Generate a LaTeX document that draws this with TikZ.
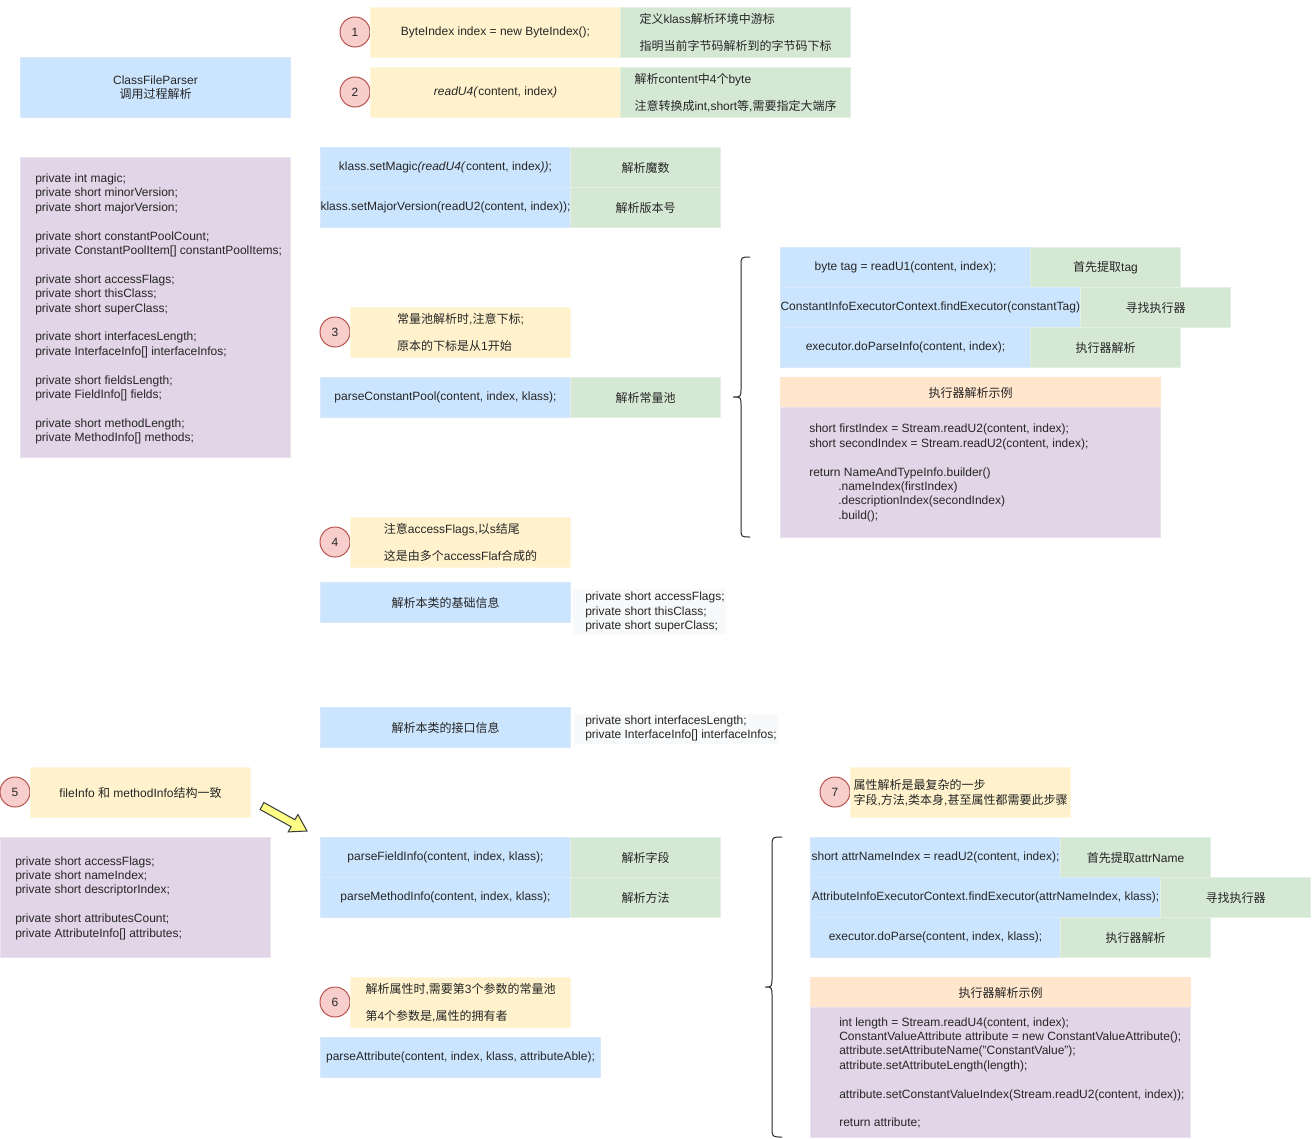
\documentclass[tikz,border=0pt]{standalone}
\usepackage{fontspec}
\setmainfont{Liberation Sans}
\newfontfamily\cjkfont{Noto Sans CJK SC}
\newcommand\zhs[1]{{\cjkfont #1}}

\definecolor{blueF}{HTML}{CCE5FF}
\definecolor{blueD}{HTML}{DAE8FC}
\definecolor{greenF}{HTML}{D5E8D4}
\definecolor{greenD}{HTML}{E2EFE1}
\definecolor{yellowF}{HTML}{FFF2CC}
\definecolor{yellowD}{HTML}{FFF6DD}
\definecolor{purpleF}{HTML}{E1D5E7}
\definecolor{purpleD}{HTML}{EAE1EE}
\definecolor{orangeF}{HTML}{FFE6CC}
\definecolor{redF}{HTML}{F8CECC}
\definecolor{redD}{HTML}{B85450}
\definecolor{grayF}{HTML}{F8F9FA}
\definecolor{arrowF}{HTML}{FFFF88}
\definecolor{arrowD}{HTML}{36393D}

\tikzset{
  txt/.style={font=\fontsize{9pt}{10.8pt}\selectfont, text=black!85},
  bx/.style 2 args={rectangle, anchor=north west, inner sep=0pt, line width=0.75pt,
    minimum width=#1*0.75pt, minimum height=#2*0.75pt, align=center, txt},
  bluebox/.style={fill=blueF, draw=blueD},
  greenbox/.style={fill=greenF, draw=greenD},
  notebox/.style={fill=yellowF, draw=yellowD, align=left},
  fieldbox/.style={fill=purpleF, draw=purpleD},
  headbox/.style={fill=orangeF, draw=orangeF},
  graybox/.style={fill=grayF, draw=none},
  code/.style={anchor=west, inner sep=0pt, align=left, txt},
  num/.style={circle, draw=redD, fill=redF, line width=0.75pt,
    minimum size=30*0.75pt, inner sep=0pt, txt},
  brace/.style={draw=black!85, line width=0.75pt},
}

\begin{document}
\begin{tikzpicture}[x=0.75pt, y=-0.75pt]
\useasboundingbox (0,0) rectangle (1312,1138);

% ---- title and the fields of the class file ----
\node[bx={270}{60}, bluebox] (title) at (20,57) {ClassFileParser\\\zhs{调用过程解析}};
\node[bx={270}{300}, fieldbox] (fields) at (20,157) {};
\node[code] (fieldstxt) at (35,309) {private int magic;\\
private short minorVersion;\\
private short majorVersion;\\[10.8pt]
private short constantPoolCount;\\
private ConstantPoolItem[] constantPoolItems;\\[10.8pt]
private short accessFlags;\\
private short thisClass;\\
private short superClass;\\[10.8pt]
private short interfacesLength;\\
private InterfaceInfo[] interfaceInfos;\\[10.8pt]
private short fieldsLength;\\
private FieldInfo[] fields;\\[10.8pt]
private short methodLength;\\
private MethodInfo[] methods;};

% ---- step 1 and 2 ----
\node[num] (n1) at (355,32) {1};
\node[bx={250}{50}, notebox, align=center] (s1) at (370,7) {ByteIndex index = new ByteIndex();};
\node[bx={230}{50}, greenbox, align=left] (s1note) at (620,7)
  {\zhs{定义}klass\zhs{解析环境中游标}\\[9.45pt]\zhs{指明当前字节码解析到的字节码下标}};

\node[num] (n2) at (355,92) {2};
\node[bx={250}{50}, notebox, align=center] (s2) at (370,67) {\textit{readU4(}content, index\textit{)}};
\node[bx={230}{50}, greenbox, align=left] (s2note) at (620,67)
  {\zhs{解析}content\zhs{中}4\zhs{个}byte\\[9.45pt]\zhs{注意转换成}int,short\zhs{等},\zhs{需要指定大端序}};

% ---- magic and version ----
\node[bx={250}{40}, bluebox] (magic) at (320,147) {klass.setMagic\textit{(readU4(}content, index\textit{))};};
\node[bx={150}{40}, greenbox] (magicnote) at (570,147) {\zhs{解析魔数}};
\node[bx={250}{40}, bluebox] (major) at (320,187) {klass.setMajorVersion(readU2(content, index));};
\node[bx={150}{40}, greenbox] (majornote) at (570,187) {\zhs{解析版本号}};

% ---- step 3: constant pool ----
\node[num] (n3) at (335,332) {3};
\node[bx={220}{50}, notebox] (s3) at (350,307)
  {\zhs{常量池解析时},\zhs{注意下标};\\[9.45pt]\zhs{原本的下标是从}1\zhs{开始}};
\node[bx={250}{40}, bluebox] (pool) at (320,377) {parseConstantPool(content, index, klass);};
\node[bx={150}{40}, greenbox] (poolnote) at (570,377) {\zhs{解析常量池}};

\draw[brace] (750,257) .. controls (741,257) .. (741,266) -- (741,388)
  .. controls (741,397) .. (733,397) .. controls (741,397) .. (741,406)
  -- (741,528) .. controls (741,537) .. (750,537);

\node[bx={250}{40}, bluebox] (tag) at (780,247) {byte tag = readU1(content, index);};
\node[bx={150}{40}, greenbox] (tagnote) at (1030,247) {\zhs{首先提取}tag};
\node[bx={300}{40}, bluebox] (find) at (780,287) {ConstantInfoExecutorContext.findExecutor(constantTag);};
\node[bx={150}{40}, greenbox] (findnote) at (1080,287) {\zhs{寻找执行器}};
\node[bx={250}{40}, bluebox] (exec) at (780,327) {executor.doParseInfo(content, index);};
\node[bx={150}{40}, greenbox] (execnote) at (1030,327) {\zhs{执行器解析}};
\node[bx={380}{30}, headbox] (ex1head) at (780,377) {\zhs{执行器解析示例}};
\node[bx={380}{130}, fieldbox] (ex1) at (780,407) {};
\node[code] (ex1txt) at (809,473) {short firstIndex = Stream.readU2(content, index);\\
short secondIndex = Stream.readU2(content, index);\\[10.8pt]
return NameAndTypeInfo.builder()\\
\hspace*{21.75pt}.nameIndex(firstIndex)\\
\hspace*{21.75pt}.descriptionIndex(secondIndex)\\
\hspace*{21.75pt}.build();};

% ---- step 4: access flags, this and super class ----
\node[num] (n4) at (335,542) {4};
\node[bx={220}{50}, notebox] (s4) at (350,517)
  {\zhs{注意}accessFlags,\zhs{以}s\zhs{结尾}\\[9.45pt]\zhs{这是由多个}accessFlaf\zhs{合成的}};
\node[bx={250}{40}, bluebox] (base) at (320,582) {\zhs{解析本类的基础信息}};
\node[bx={153}{45}, graybox] (baseback) at (572,588) {};
\node[code] (basetxt) at (585,612) {private short accessFlags;\\private short thisClass;\\private short superClass;};

% ---- interfaces ----
\node[bx={250}{40}, bluebox] (iface) at (320,707) {\zhs{解析本类的接口信息}};
\node[bx={204}{30}, graybox] (ifaceback) at (573,713) {};
\node[code] (ifacetxt) at (585,728.5) {private short interfacesLength;\\private InterfaceInfo[] interfaceInfos;};

% ---- step 5: fields and methods ----
\node[num] (n5) at (15,792) {5};
\node[bx={220}{50}, notebox, align=center] (s5) at (30,767) {fileInfo \zhs{和} methodInfo\zhs{结构一致}};
\node[bx={270}{120}, fieldbox] (member) at (0,837) {};
\node[code] (membertxt) at (15,898) {private short accessFlags;\\
private short nameIndex;\\
private short descriptorIndex;\\[10.8pt]
private short attributesCount;\\
private AttributeInfo[] attributes;};

\draw[fill=arrowF, draw=arrowD, line width=0.75pt, line join=miter]
  (263.9,802.5) -- (294.9,819.7) -- (297.9,814.5) -- (307,831)
  -- (288.2,831.9) -- (291.1,826.7) -- (260.1,809.5) -- cycle;

\node[bx={250}{40}, bluebox] (fieldp) at (320,837) {parseFieldInfo(content, index, klass);};
\node[bx={150}{40}, greenbox] (fieldnote) at (570,837) {\zhs{解析字段}};
\node[bx={250}{40}, bluebox] (methodp) at (320,877) {parseMethodInfo(content, index, klass);};
\node[bx={150}{40}, greenbox] (methodnote) at (570,877) {\zhs{解析方法}};

% ---- step 6: attributes ----
\node[num] (n6) at (335,1002) {6};
\node[bx={220}{50}, notebox] (s6) at (350,977)
  {\zhs{解析属性时},\zhs{需要第}3\zhs{个参数的常量池}\\[9.45pt]\zhs{第}4\zhs{个参数是},\zhs{属性的拥有者}};
\node[bx={280}{40}, bluebox] (attr) at (320,1037) {parseAttribute(content, index, klass, attributeAble);};

% ---- step 7: attribute parsing ----
\node[num] (n7) at (835,792) {7};
\node[bx={220}{50}, notebox] (s7) at (850,767)
  {\zhs{属性解析是最复杂的一步}\\\zhs{字段},\zhs{方法},\zhs{类本身},\zhs{甚至属性都需要此步骤}};

\draw[brace] (782,837) .. controls (772,837) .. (772,847) -- (772,977)
  .. controls (772,987) .. (765,987) .. controls (772,987) .. (772,997)
  -- (772,1127) .. controls (772,1137) .. (782,1137);

\node[bx={250}{40}, bluebox] (aname) at (810,837) {short attrNameIndex = readU2(content, index);};
\node[bx={150}{40}, greenbox] (anamenote) at (1060,837) {\zhs{首先提取}attrName};
\node[bx={350}{40}, bluebox] (afind) at (810,877) {AttributeInfoExecutorContext.findExecutor(attrNameIndex, klass);};
\node[bx={150}{40}, greenbox] (afindnote) at (1160,877) {\zhs{寻找执行器}};
\node[bx={250}{40}, bluebox] (aexec) at (810,917) {executor.doParse(content, index, klass);};
\node[bx={150}{40}, greenbox] (aexecnote) at (1060,917) {\zhs{执行器解析}};
\node[bx={380}{30}, headbox] (ex2head) at (810,977) {\zhs{执行器解析示例}};
\node[bx={380}{130}, fieldbox] (ex2) at (810,1007) {};
\node[code] (ex2txt) at (839,1073) {int length = Stream.readU4(content, index);\\
ConstantValueAttribute attribute = new ConstantValueAttribute();\\
attribute.setAttributeName("ConstantValue");\\
attribute.setAttributeLength(length);\\[10.8pt]
attribute.setConstantValueIndex(Stream.readU2(content, index));\\[10.8pt]
return attribute;};
\end{tikzpicture}
\end{document}
